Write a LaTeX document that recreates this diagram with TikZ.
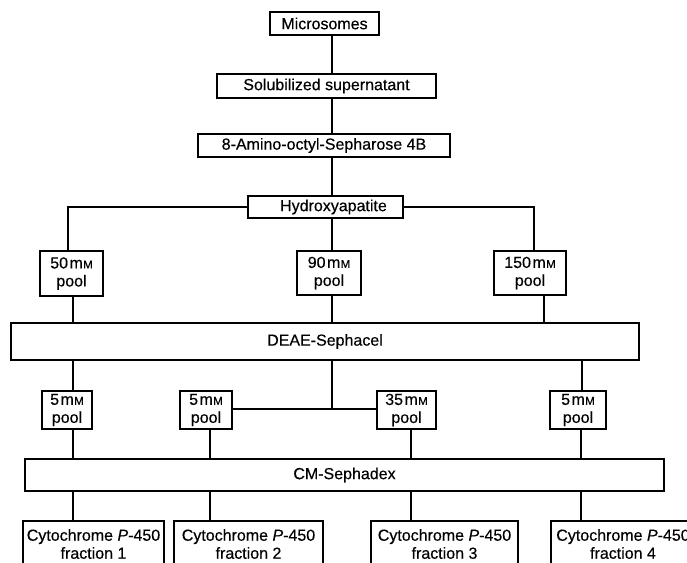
\documentclass[tikz,border=0pt]{standalone}
\usepackage{fontspec}
\setmainfont[FakeBold=0.35]{Liberation Sans}
\newcommand{\smM}{{\fontsize{11.5}{11.5}\selectfont M}}
\newcommand{\mmu}{\kern1.5pt m\kern0.3pt\smM}
\begin{document}
\begin{tikzpicture}[x=1pt,y=-1pt,
  box/.style={draw=black, line width=1.7pt, fill=white, inner sep=0pt, align=center,
    font=\fontsize{16}{18}\selectfont},
  link/.style={draw=black, line width=1.7pt}]
\clip (0,0) rectangle (687,562);
\fill[white] (0,0) rectangle (687,562);
% boxes
\node[box, minimum width=109, minimum height=23] (micro) at (324.5,23.5) {Microsomes};
\node[box, minimum width=219, minimum height=24] (solub) at (326.5,86) {Solubilized supernatant};
\node[box, minimum width=252, minimum height=23] (amino) at (324,145.5) {8-Amino-octyl-Sepharose 4B};
\node[box, minimum width=155, minimum height=22] (hydro) at (325.5,207) {\hspace*{16pt}Hydroxyapatite};
\node[box, minimum width=63, minimum height=45] (p50) at (71.5,273.5) {50\mmu\\pool};
\node[box, minimum width=64, minimum height=44] (p90) at (329,273) {90\mmu\\pool};
\node[box, minimum width=72, minimum height=44] (p150) at (530,273) {150\mmu\\pool};
\node[box, minimum width=628, minimum height=37] (deae) at (325,341.5) {DEAE-Sephacel};
\node[box, minimum width=50, minimum height=38] (q1) at (67,410) {5\mmu\\pool};
\node[box, minimum width=52, minimum height=38] (q2) at (206,410) {5\mmu\\pool};
\node[box, minimum width=59, minimum height=38] (q3) at (406.5,410) {35\mmu\\pool};
\node[box, minimum width=56, minimum height=38] (q4) at (578,410) {5\mmu\\pool};
\node[box, minimum width=639, minimum height=32] (cm) at (344.5,475) {CM-Sephadex};
\node[box, minimum width=141, minimum height=46] (f1) at (93.5,544) {Cytochrome \textit{P}-450\\fraction 1};
\node[box, minimum width=149, minimum height=46] (f2) at (248.5,544) {Cytochrome \textit{P}-450\\fraction 2};
\node[box, minimum width=147, minimum height=46] (f3) at (444.5,544) {Cytochrome \textit{P}-450\\fraction 3};
\node[box, minimum width=144, minimum height=46] (f4) at (623,544) {Cytochrome \textit{P}-450\\fraction 4};
% column coordinates
\coordinate (xc) at (332,0);
\coordinate (xl) at (68,0);
\coordinate (xr) at (534,0);
\coordinate (xa) at (73,0);
\coordinate (xb) at (544,0);
\coordinate (xd) at (582,0);
\coordinate (x2) at (210,0);
\coordinate (x3) at (411,0);
\coordinate (x4) at (581,0);
\coordinate (jn) at (332,409);
% connectors
\draw[link] (micro.south -| xc) -- (solub.north -| xc);
\draw[link] (solub.south -| xc) -- (amino.north -| xc);
\draw[link] (amino.south -| xc) -- (hydro.north -| xc);
\draw[link] (hydro.west) -| (p50.north -| xl);
\draw[link] (hydro.east) -| (p150.north -| xr);
\draw[link] (hydro.south -| xc) -- (p90.north -| xc);
\draw[link] (p50.south -| xa) -- (deae.north -| xa);
\draw[link] (p90.south -| xc) -- (deae.north -| xc);
\draw[link] (p150.south -| xb) -- (deae.north -| xb);
\draw[link] (deae.south -| xa) -- (q1.north -| xa);
\draw[link] (deae.south -| xc) -- (jn);
\draw[link] (q2.east |- jn) -- (q3.west |- jn);
\draw[link] (deae.south -| xd) -- (q4.north -| xd);
\draw[link] (q1.south -| xa) -- (cm.north -| xa);
\draw[link] (q2.south -| x2) -- (cm.north -| x2);
\draw[link] (q3.south -| x3) -- (cm.north -| x3);
\draw[link] (q4.south -| x4) -- (cm.north -| x4);
\draw[link] (cm.south -| xa) -- (f1.north -| xa);
\draw[link] (cm.south -| x2) -- (f2.north -| x2);
\draw[link] (cm.south -| x3) -- (f3.north -| x3);
\draw[link] (cm.south -| x4) -- (f4.north -| x4);
\end{tikzpicture}
\end{document}
